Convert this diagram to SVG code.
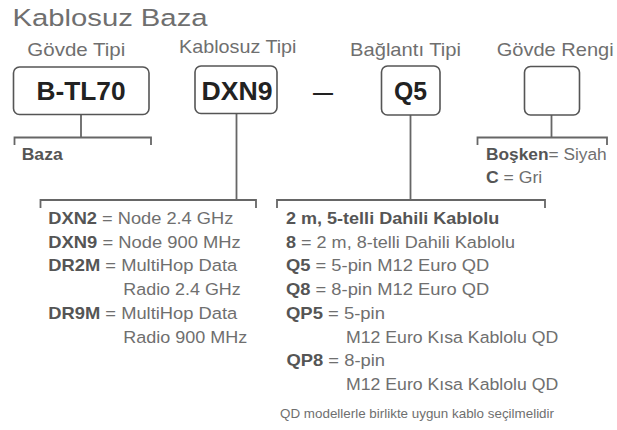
<svg xmlns="http://www.w3.org/2000/svg" width="617" height="430" viewBox="0 0 617 430">
<style>
text{font-family:"Liberation Sans",Arial,Helvetica,sans-serif;fill:#6f6f6f}
.title{font-size:24.5px}
.hdr{font-size:18.5px}
.lst{font-size:16.3px}
.note{font-size:12.8px}
.b{font-weight:bold;fill:#555}
.code{font-size:25px;font-weight:bold;fill:#222;text-anchor:middle}
.box{fill:#fff;stroke:#555;stroke-width:1.6}
.ln{fill:none;stroke:#666;stroke-width:1.8}
</style>
<rect width="617" height="430" fill="#fff"/>
<text class="title" x="12.5" y="25.5" textLength="195" lengthAdjust="spacingAndGlyphs">Kablosuz Baza</text>

<g id="connectors">
<path class="ln" d="M81 114.5V137.5M14.5 145V137.5H151V145"/>
<path class="ln" d="M236.5 114V200M40.5 208V200H256V208"/>
<path class="ln" d="M410.5 115V200M277 208V200H545V208"/>
<path class="ln" d="M551.5 115V137.5M477.5 145V137.5H607V145"/>
</g>

<g id="n-govde-tipi">
<text class="hdr" x="27.3" y="56" textLength="98" lengthAdjust="spacingAndGlyphs">Gövde Tipi</text>
<rect class="box" x="13.5" y="67" width="135.5" height="47.5" rx="6"/>
<text class="code" x="81" y="100" textLength="89" lengthAdjust="spacingAndGlyphs">B-TL70</text>
<text class="lst b" x="21.7" y="159.5" textLength="41" lengthAdjust="spacingAndGlyphs">Baza</text>
</g>

<g id="n-kablosuz-tipi">
<text class="hdr" x="179" y="52.5" textLength="117.5" lengthAdjust="spacingAndGlyphs">Kablosuz Tipi</text>
<rect class="box" x="195" y="66" width="82" height="47.5" rx="6"/>
<text class="code" x="237" y="100" textLength="71" lengthAdjust="spacingAndGlyphs">DXN9</text>
<text class="lst" x="48.3" y="224" textLength="185" lengthAdjust="spacingAndGlyphs"><tspan class="b">DXN2</tspan> = Node 2.4 GHz</text>
<text class="lst" x="48.3" y="247.7" textLength="192.4" lengthAdjust="spacingAndGlyphs"><tspan class="b">DXN9</tspan> = Node 900 MHz</text>
<text class="lst" x="48.3" y="271.4" textLength="189" lengthAdjust="spacingAndGlyphs"><tspan class="b">DR2M</tspan> = MultiHop Data</text>
<text class="lst" x="123.3" y="295.1" textLength="117.4" lengthAdjust="spacingAndGlyphs">Radio 2.4 GHz</text>
<text class="lst" x="48.3" y="318.8" textLength="189" lengthAdjust="spacingAndGlyphs"><tspan class="b">DR9M</tspan> = MultiHop Data</text>
<text class="lst" x="123.3" y="342.5" textLength="124" lengthAdjust="spacingAndGlyphs">Radio 900 MHz</text>
</g>

<g id="n-dash">
<text x="323" y="99" font-size="20" font-weight="bold" text-anchor="middle" style="fill:#222">—</text>
</g>

<g id="n-baglanti-tipi">
<text class="hdr" x="350" y="56" textLength="111" lengthAdjust="spacingAndGlyphs">Bağlantı Tipi</text>
<rect class="box" x="381.5" y="66" width="58.5" height="49" rx="6"/>
<text class="code" x="410.5" y="100" textLength="33" lengthAdjust="spacingAndGlyphs">Q5</text>
<text class="lst b" x="286" y="224" textLength="213.3" lengthAdjust="spacingAndGlyphs">2 m, 5-telli Dahili Kablolu</text>
<text class="lst" x="286" y="247.7" textLength="229" lengthAdjust="spacingAndGlyphs"><tspan class="b">8</tspan> = 2 m, 8-telli Dahili Kablolu</text>
<text class="lst" x="286" y="271.4" textLength="203.3" lengthAdjust="spacingAndGlyphs"><tspan class="b">Q5</tspan> = 5-pin M12 Euro QD</text>
<text class="lst" x="286" y="295.1" textLength="203.3" lengthAdjust="spacingAndGlyphs"><tspan class="b">Q8</tspan> = 8-pin M12 Euro QD</text>
<text class="lst" x="286" y="318.8" textLength="99" lengthAdjust="spacingAndGlyphs"><tspan class="b">QP5</tspan> = 5-pin</text>
<text class="lst" x="346" y="342.5" textLength="212.3" lengthAdjust="spacingAndGlyphs">M12 Euro Kısa Kablolu QD</text>
<text class="lst" x="286.5" y="366.2" textLength="98.5" lengthAdjust="spacingAndGlyphs"><tspan class="b">QP8</tspan> = 8-pin</text>
<text class="lst" x="346" y="389.9" textLength="212.3" lengthAdjust="spacingAndGlyphs">M12 Euro Kısa Kablolu QD</text>
<text class="note" x="280" y="418.3" textLength="274" lengthAdjust="spacingAndGlyphs">QD modellerle birlikte uygun kablo seçilmelidir</text>
</g>

<g id="n-govde-rengi">
<text class="hdr" x="496.7" y="56" textLength="117" lengthAdjust="spacingAndGlyphs">Gövde Rengi</text>
<rect class="box" x="524.5" y="66.5" width="55" height="48.5" rx="6"/>
<text class="lst" x="486" y="160" textLength="120.7" lengthAdjust="spacingAndGlyphs"><tspan class="b">Boşken</tspan>= Siyah</text>
<text class="lst" x="486" y="182.5" textLength="56.3" lengthAdjust="spacingAndGlyphs"><tspan class="b">C</tspan> = Gri</text>
</g>
</svg>
